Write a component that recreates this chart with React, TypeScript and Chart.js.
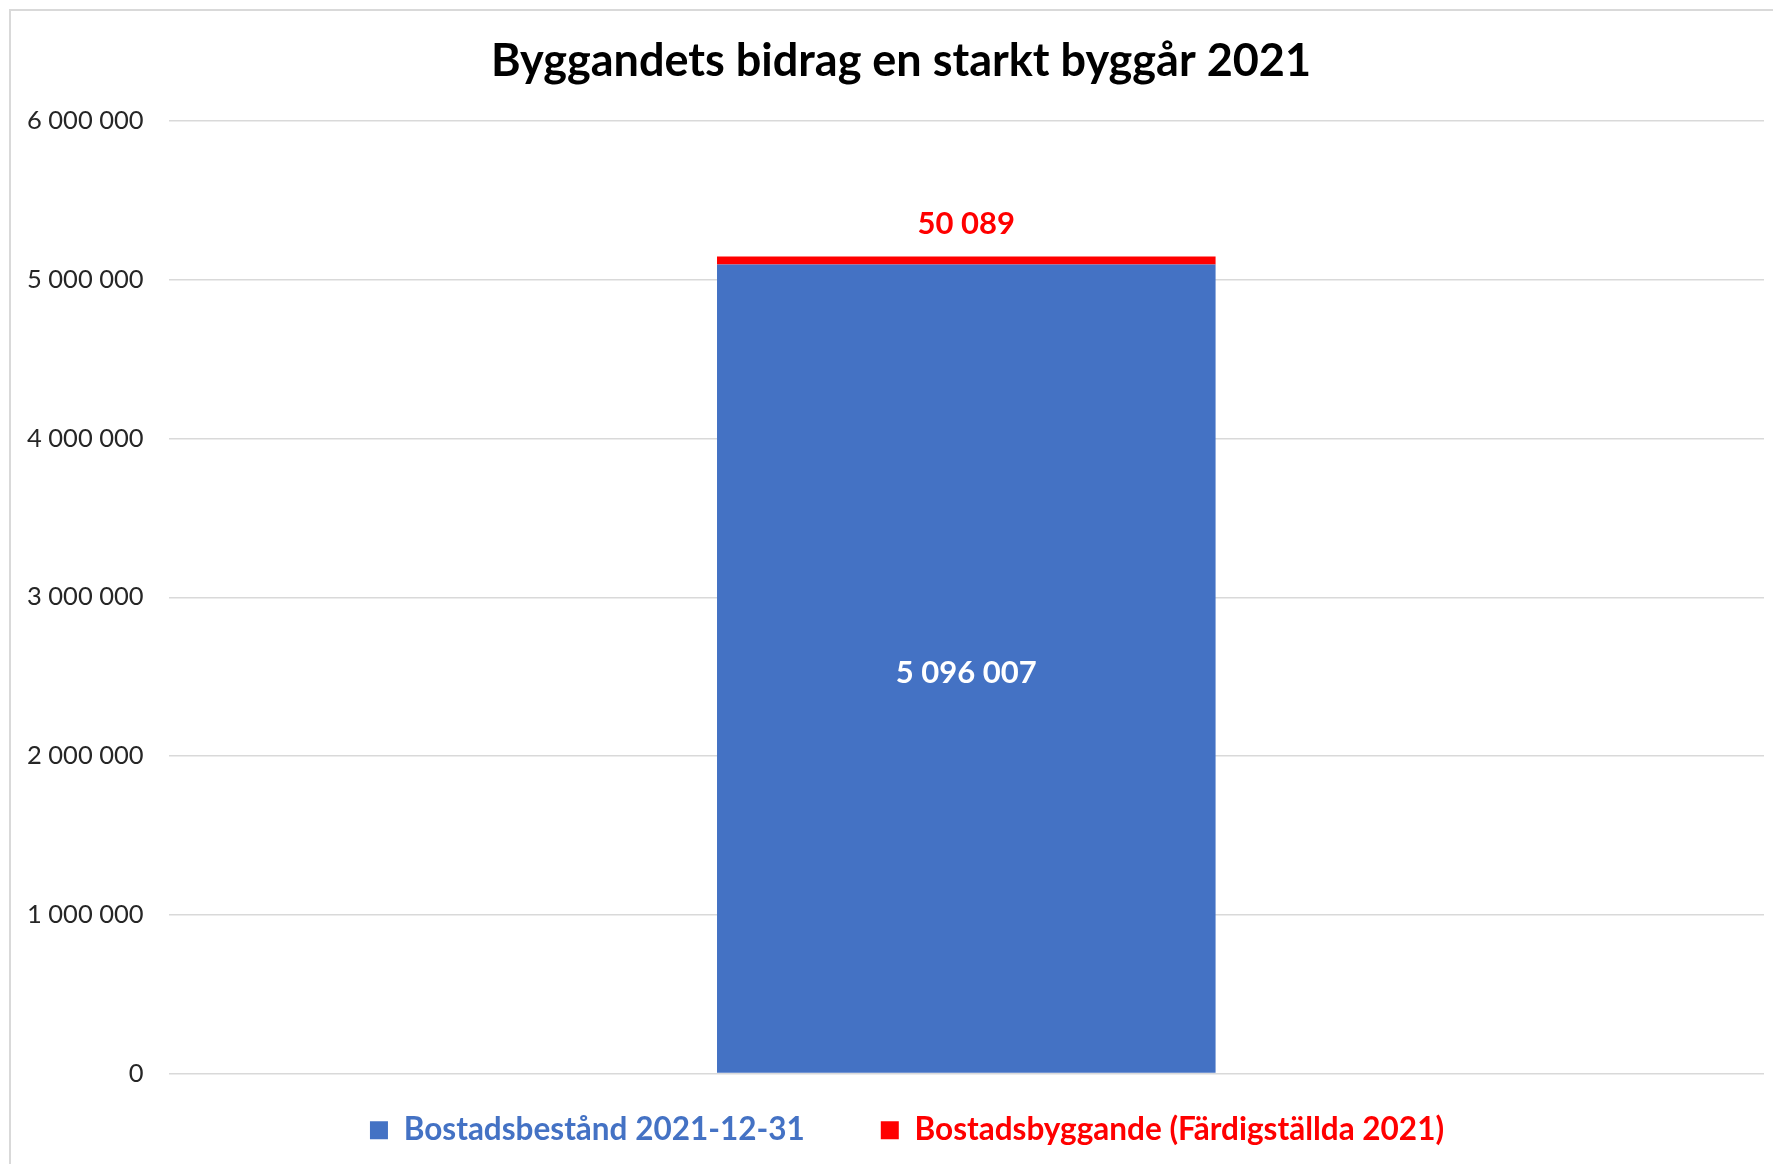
import React, { useEffect, useRef } from 'react';
import { Chart, registerables } from 'chart.js';

Chart.register(...registerables);

const titleText = 'Byggandets bidrag en starkt byggår 2021';
const categories = ['2021'];
const seriesNames = ['Bostadsbestånd 2021-12-31', 'Bostadsbyggande (Färdigställda 2021)'];
const stockValues = [5096007];
const builtValues = [50089];
const seriesColors = ['#4472C4', '#FF0000'];
const labelColors = ['#FFFFFF', '#FF0000'];
const yMin = 0;
const yMax = 6000000;
const yStep = 1000000;

const fmt = (n: number) => {
  const s = Math.round(n).toString();
  return s.replace(/\B(?=(\d{3})+(?!\d))/g, ' ');
};

const FONT = 'Lato, "Open Sans", sans-serif';

const framePlugin = {
  id: 'frame',
  beforeDraw(chart: any) {
    const ctx = chart.ctx;
    ctx.save();
    ctx.fillStyle = '#FFFFFF';
    ctx.fillRect(0, 0, chart.width, chart.height);
    ctx.strokeStyle = '#D9D9D9';
    ctx.lineWidth = 2;
    ctx.strokeRect(10, 10, chart.width + 20, chart.height + 20);
    ctx.restore();
  },
};

const boxShiftPlugin = {
  id: 'boxShift',
  afterLayout(chart: any) {
    const l = chart.legend;
    if (l) {
      l.top -= 35;
      l.bottom -= 35;
      l.left += 24;
      l.right += 24;
    }
    const t = chart.titleBlock;
    if (t) {
      t.left += 18;
      t.right += 18;
    }
  },
};

const valueLabelPlugin = {
  id: 'valueLabels',
  afterDatasetsDraw(chart: any) {
    const ctx = chart.ctx;
    ctx.save();
    ctx.font = `bold 31px ${FONT}`;
    ctx.textAlign = 'center';
    ctx.textBaseline = 'middle';
    chart.data.datasets.forEach((ds: any, di: number) => {
      const meta = chart.getDatasetMeta(di);
      meta.data.forEach((bar: any, i: number) => {
        const v = ds.data[i];
        ctx.fillStyle = labelColors[di];
        if (di === 0) {
          ctx.fillText(fmt(v), bar.x, (bar.y + bar.base) / 2 + 4);
        } else {
          ctx.fillText(fmt(v), bar.x, bar.y - 33);
        }
      });
    });
    ctx.restore();
  },
};

export default function App() {
  const ref = useRef<HTMLCanvasElement | null>(null);

  useEffect(() => {
    document.body.style.margin = '0';
    const canvas = ref.current;
    if (!canvas) return;
    const chart = new Chart(canvas, {
      type: 'bar',
      data: {
        labels: categories,
        datasets: [
          {
            label: seriesNames[0],
            data: stockValues,
            backgroundColor: seriesColors[0],
            borderWidth: 0,
            categoryPercentage: 1,
            barPercentage: 0.3125,
          },
          {
            label: seriesNames[1],
            data: builtValues,
            backgroundColor: seriesColors[1],
            borderWidth: 0,
            categoryPercentage: 1,
            barPercentage: 0.3125,
          },
        ],
      },
      options: {
        animation: false,
        responsive: false,
        maintainAspectRatio: false,
        devicePixelRatio: 1,
        layout: { padding: { left: 2, right: 9, top: 0, bottom: -27 } },
        plugins: {
          title: {
            display: true,
            text: titleText,
            color: '#000000',
            font: { family: FONT, size: 45, weight: 'bold' },
            padding: { top: 34, bottom: 33 },
          },
          legend: {
            display: true,
            position: 'bottom',
            labels: {
              boxWidth: 18,
              boxHeight: 18,
              padding: 76,
              font: { family: FONT, size: 31.5, weight: 'bold' },
              generateLabels: (chart: any) =>
                chart.data.datasets.map((ds: any, i: number) => ({
                  text: ds.label,
                  fillStyle: seriesColors[i],
                  strokeStyle: seriesColors[i],
                  lineWidth: 0,
                  fontColor: seriesColors[i],
                  hidden: false,
                  datasetIndex: i,
                })),
            },
          },
          tooltip: { enabled: false },
        },
        scales: {
          x: {
            stacked: true,
            display: false,
          },
          y: {
            stacked: true,
            min: yMin,
            max: yMax,
            border: { display: false },
            grid: { color: '#D9D9D9', lineWidth: 1.5, drawTicks: false },
            ticks: {
              stepSize: yStep,
              padding: 25,
              color: '#262626',
              font: { family: FONT, size: 25.5 },
              callback: (v: any) => fmt(Number(v)),
            },
          },
        },
      },
      plugins: [framePlugin, boxShiftPlugin, valueLabelPlugin],
    });
    return () => chart.destroy();
  }, []);

  return (
    <div style={{ width: 1773, height: 1164 }}>
      <canvas ref={ref} width={1773} height={1164} style={{ display: 'block', width: 1773, height: 1164 }} />
    </div>
  );
}
